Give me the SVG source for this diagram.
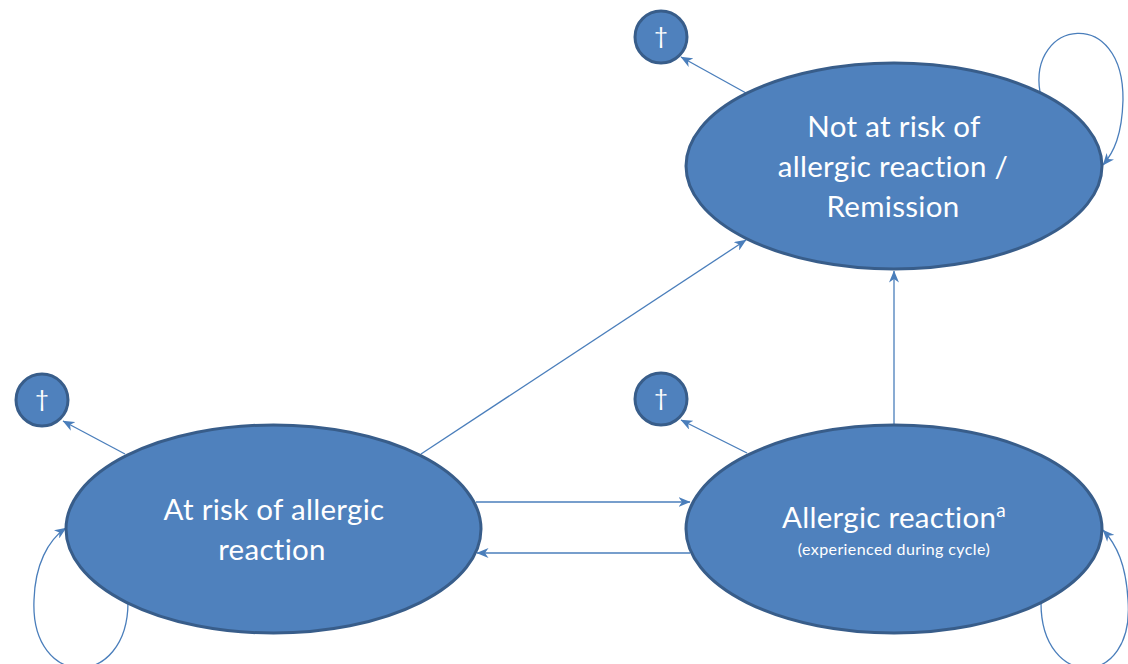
<svg xmlns="http://www.w3.org/2000/svg" width="1128" height="664" viewBox="0 0 1128 664">
<style>
.node{fill:#4F81BD;stroke:#385D8A;stroke-width:3}
.t{fill:#FFFFFF;font-family:Lato,"Open Sans",sans-serif;text-anchor:middle}
.big{font-size:29.5px;letter-spacing:0.3px}
.small{font-size:16px;letter-spacing:0.4px}
.dag{font-size:24px}
.c{fill:none;stroke:#4A7EBB;stroke-width:1.3}
</style>
<defs>
<marker id="ah" viewBox="0 0 12 10" refX="11.5" refY="5" markerWidth="12" markerHeight="10" markerUnits="userSpaceOnUse" orient="auto">
<path d="M0,0 L12,5 L0,10 L3.5,5 Z" fill="#4A7EBB"/>
</marker>
</defs>
<rect width="1128" height="664" fill="#FFFFFF"/>
<g id="connectors">
<path class="c" marker-end="url(#ah)" d="M746,93 L681,57"/>
<path class="c" marker-end="url(#ah)" d="M125,454 L63,421"/>
<path class="c" marker-end="url(#ah)" d="M747,453 L681,420"/>
<path class="c" marker-end="url(#ah)" d="M421,454 L746,240"/>
<path class="c" marker-end="url(#ah)" d="M894,425 L894,271"/>
<path class="c" marker-end="url(#ah)" d="M476,502 L690,502"/>
<path class="c" marker-end="url(#ah)" d="M690,553 L477,553"/>
<path class="c" marker-end="url(#ah)" d="M1040,92 C1028,20 1124,5 1123,100 C1122,135 1114,152 1103,165"/>
<path class="c" marker-end="url(#ah)" d="M128,602 C128,690 30,690 34,600 C35,565 48,540 66,528"/>
<path class="c" marker-end="url(#ah)" d="M1041,603 C1041,690 1135,690 1128,600 C1126,565 1117,545 1103,530"/>
</g>
<g id="not-at-risk">
<ellipse class="node" cx="894" cy="166" rx="208" ry="103"/>
<text class="t big" x="894" y="137">Not at risk of</text>
<text class="t big" x="893" y="177">allergic reaction /</text>
<text class="t big" x="893" y="217">Remission</text>
</g>
<g id="at-risk">
<ellipse class="node" cx="273.5" cy="529" rx="207.5" ry="104"/>
<text class="t big" x="274" y="520">At risk of allergic</text>
<text class="t big" x="272" y="560">reaction</text>
</g>
<g id="allergic-reaction">
<ellipse class="node" cx="894" cy="529" rx="208" ry="104"/>
<text class="t big" x="894" y="528">Allergic reaction<tspan font-size="19px" dy="-11">a</tspan></text>
<text class="t small" x="894" y="555">(experienced during cycle)</text>
</g>
<g id="death-top">
<circle class="node" cx="661" cy="37" r="26"/>
<text class="t dag" x="661" y="44">†</text>
</g>
<g id="death-left">
<circle class="node" cx="42" cy="400" r="26"/>
<text class="t dag" x="42" y="407">†</text>
</g>
<g id="death-right">
<circle class="node" cx="661" cy="399" r="26"/>
<text class="t dag" x="661" y="406">†</text>
</g>
</svg>
